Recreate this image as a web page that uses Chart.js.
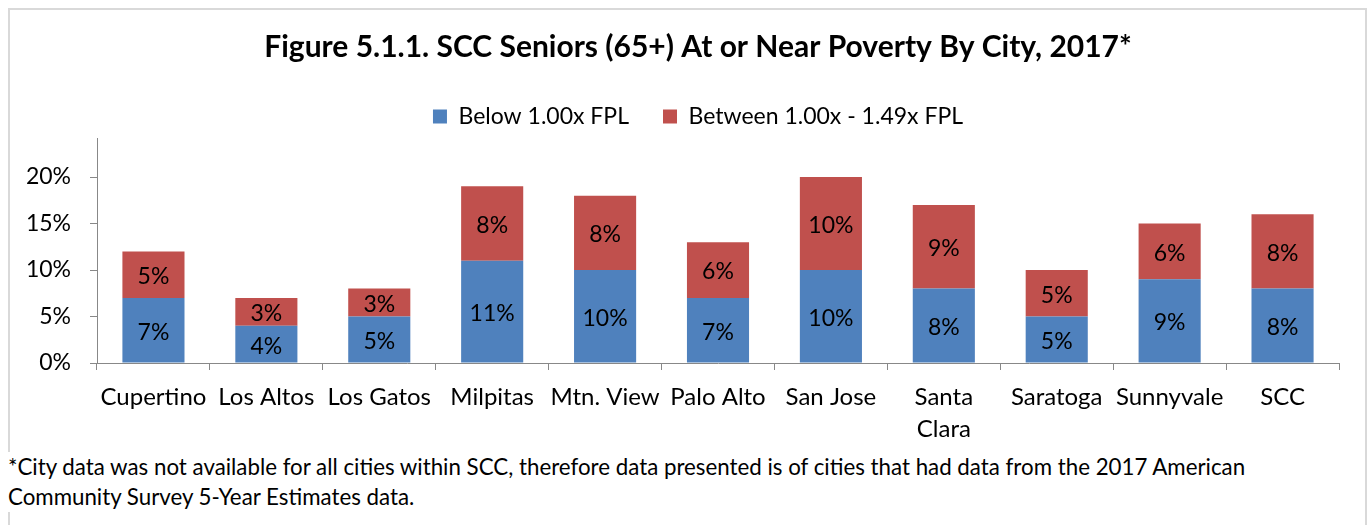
<!DOCTYPE html>
<html>
<head>
<meta charset="utf-8">
<script src="https://cdn.jsdelivr.net/npm/chart.js@4/dist/chart.umd.min.js"></script>
<style>
  body { margin: 0; background: #fff; font-family: Lato, sans-serif; }
  #frame { position: absolute; left: 8px; top: 8px; width: 1355px; height: 530px; border: 2px solid #d9d9d9; border-bottom: none; }
  #wrap { position: absolute; left: 10px; top: 10px; width: 1355px; height: 440px; }
  #note { position: absolute; left: 3px; top: 452px; padding-left: 5px; width: 1340px; background: #fff; font-size: 22.3px; line-height: 30px; color: #000; white-space: nowrap; }
</style>
</head>
<body>
<div id="frame"></div>
<div id="wrap"><canvas id="povertyChart"></canvas></div>
<div id="note">*City data was not available for all cities within SCC, therefore data presented is of cities that had data from the 2017 American<br>Community Survey 5-Year Estimates data.</div>
<script>
// datos
const cities = ["Cupertino", "Los Altos", "Los Gatos", "Milpitas", "Mtn. View", "Palo Alto", "San Jose", ["Santa", "Clara"], "Saratoga", "Sunnyvale", "SCC"];
const belowFPL = [7, 4, 5, 11, 10, 7, 10, 8, 5, 9, 8];
const betweenFPL = [5, 3, 3, 8, 8, 6, 10, 9, 5, 6, 8];
const yTicks = [0, 5, 10, 15, 20];

const FONT = "Lato";

// etiquetas dentro de cada segmento
const valueLabels = {
  id: "valueLabels",
  afterDatasetsDraw(chart) {
    const ctx = chart.ctx;
    ctx.save();
    ctx.font = "23px " + FONT;
    ctx.fillStyle = "#000";
    ctx.textAlign = "center";
    ctx.textBaseline = "middle";
    chart.data.datasets.forEach((ds, i) => {
      chart.getDatasetMeta(i).data.forEach((bar, j) => {
        ctx.fillText(ds.data[j] + "%", bar.x, (bar.y + bar.base) / 2 + 2);
      });
    });
    ctx.restore();
  }
};

// mover titulo y leyenda un poco a la derecha (como en el original)
const shiftTop = {
  id: "shiftTop",
  afterLayout(chart) {
    chart.titleBlock.left += 47;
    chart.legend.left += 47;
    chart.legend.adjustHitBoxes();
  }
};

const ctx = document.getElementById("povertyChart").getContext("2d");
new Chart(ctx, {
  type: "bar",
  data: {
    labels: cities,
    datasets: [
      { label: "Below 1.00x FPL", data: belowFPL, backgroundColor: "#4F81BD", barPercentage: 0.55, categoryPercentage: 1 },
      { label: "Between 1.00x - 1.49x FPL", data: betweenFPL, backgroundColor: "#C0504D", barPercentage: 0.55, categoryPercentage: 1 }
    ]
  },
  options: {
    responsive: true,
    maintainAspectRatio: false,
    animation: false,
    layout: { padding: { left: 0, right: 26, top: 0, bottom: 0 } },
    plugins: {
      title: {
        display: true,
        text: "Figure 5.1.1. SCC Seniors (65+) At or Near Poverty By City, 2017*",
        color: "#000",
        font: { family: FONT, size: 30, weight: "bold" },
        padding: { top: 19, bottom: 6 }
      },
      legend: {
        labels: {
          color: "#000",
          font: { family: FONT, size: 23 },
          boxWidth: 14,
          boxHeight: 14,
          padding: 34
        }
      },
      tooltip: { enabled: false }
    },
    scales: {
      x: {
        stacked: true,
        afterFit: (scale) => { scale.height = 87; },
        grid: { display: true, offset: true, drawOnChartArea: false, drawTicks: true, tickLength: 7, color: "#888" },
        border: { display: true, color: "#888" },
        ticks: {
          color: "#000",
          font: { family: FONT, size: 24, lineHeight: 1.3 },
          padding: 12,
          maxRotation: 0,
          autoSkip: false
        }
      },
      y: {
        stacked: true,
        min: 0,
        max: 24.2,
        afterFit: (scale) => { scale.width = 87; },
        afterBuildTicks: (scale) => { scale.ticks = yTicks.map(v => ({ value: v })); },
        grid: { display: true, drawOnChartArea: false, drawTicks: true, tickLength: 7, color: "#888" },
        border: { display: true, color: "#888" },
        ticks: {
          color: "#000",
          font: { family: FONT, size: 23 },
          padding: 19,
          callback: (v) => v + "%"
        }
      }
    }
  },
  plugins: [valueLabels, shiftTop]
});
</script>
</body>
</html>
